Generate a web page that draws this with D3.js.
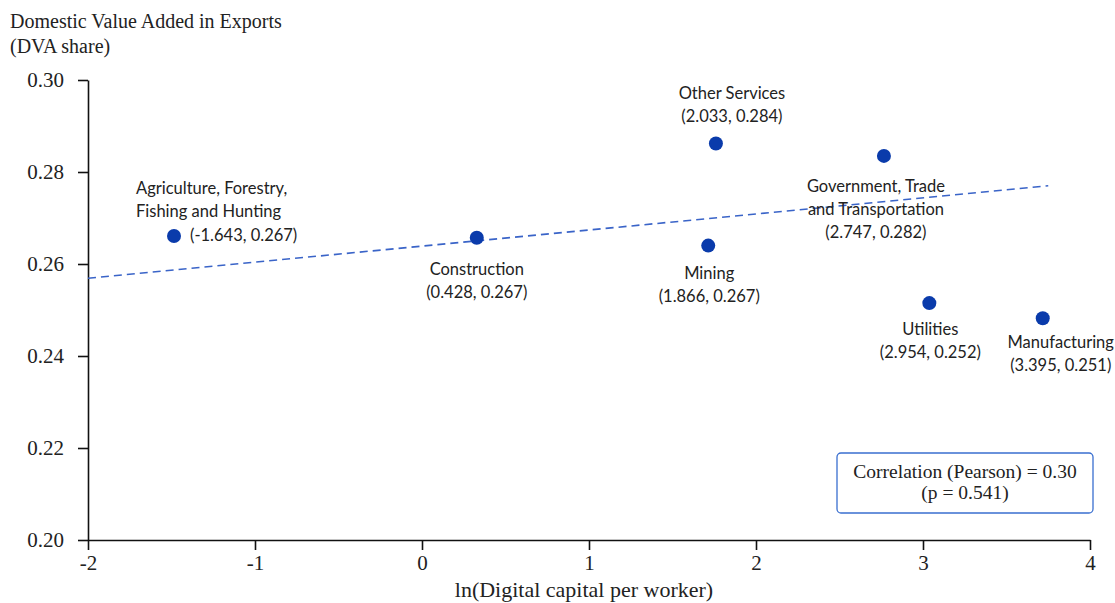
<!DOCTYPE html>
<html>
<head>
<meta charset="utf-8">
<script src="https://cdn.jsdelivr.net/npm/d3@7"></script>
<style>
	body { margin: 0; background: #fff; }
	.axis path, .axis line { stroke: #111; stroke-width: 1.6px; }
	.axis text { font-family: "Liberation Serif", serif; font-size: 21px; fill: #222; }
	.pt-label { font-family: Lato, "Noto Sans", sans-serif; font-size: 16.5px; fill: #222; }
</style>
</head>
<body>
<div id="chart"></div>
<script>

// sectors and where their dots sit
let sectors = ["Agriculture, Forestry, Fishing and Hunting", "Construction", "Other Services", "Mining",
	"Government, Trade and Transportation", "Utilities", "Manufacturing"];
let xValues = [-1.485, 0.328, 1.760, 1.714, 2.766, 3.038, 3.717];
let yValues = [0.2661, 0.2657, 0.2862, 0.2640, 0.2835, 0.2515, 0.2482];

// numbers printed in the annotations
let annX = ["-1.643", "0.428", "2.033", "1.866", "2.747", "2.954", "3.395"];
let annY = ["0.267", "0.267", "0.284", "0.267", "0.282", "0.252", "0.251"];

// fitted line end points
let fitX = [-2, 3.75];
let fitY = [0.2569, 0.2770];

let xTicks = [-2, -1, 0, 1, 2, 3, 4];
let yTicks = [0.20, 0.22, 0.24, 0.26, 0.28, 0.30];

let corrText = ["Correlation (Pearson) = 0.30", "(p = 0.541)"];

// label placement relative to each dot
let labelLayout = [
	{lines: ["Agriculture, Forestry,", "Fishing and Hunting"], dx: -38, dy: -42, anchor: "start", coordDx: 16, coordDy: 5, coordAnchor: "start", inline: true},
	{lines: ["Construction"], dx: 0, dy: 37, anchor: "middle"},
	{lines: ["Other Services"], dx: 16, dy: -44, anchor: "middle"},
	{lines: ["Mining"], dx: 1, dy: 33, anchor: "middle"},
	{lines: ["Government, Trade", "and Transportation"], dx: -8, dy: 36, anchor: "middle"},
	{lines: ["Utilities"], dx: 1, dy: 32, anchor: "middle"},
	{lines: ["Manufacturing"], dx: 18, dy: 30, anchor: "middle"}
];

let margin = {top: 80, right: 25, bottom: 63, left: 88};
let width = 1115 - margin.left - margin.right;
let height = 603 - margin.top - margin.bottom;

let svg = d3.select("#chart").append("svg")
	.attr("width", 1115)
	.attr("height", 603)
	.append("g")
	.attr("transform", "translate(" + margin.left + "," + margin.top + ")");

let x = d3.scaleLinear().domain([-2, 4]).range([0, 1002]);
let y = d3.scaleLinear().domain([0.20, 0.30]).range([height, 0]);

// axes
svg.append("g")
	.attr("class", "x-axis axis")
	.attr("transform", "translate(0," + height + ")")
	.call(d3.axisBottom(x).tickValues(xTicks).tickSize(10).tickSizeOuter(0).tickPadding(5)
		.tickFormat(d => (d < 0 ? "-" : "") + Math.abs(d)));

svg.append("g")
	.attr("class", "y-axis axis")
	.call(d3.axisLeft(y).tickValues(yTicks).tickSize(10).tickSizeOuter(0).tickPadding(14)
		.tickFormat(d3.format(".2f")));

svg.selectAll(".axis .domain").attr("stroke-width", 2);

// dashed fit line
svg.append("line")
	.attr("x1", x(fitX[0])).attr("y1", y(fitY[0]))
	.attr("x2", x(fitX[1])).attr("y2", y(fitY[1]))
	.attr("stroke", "#3a64c8")
	.attr("stroke-width", 1.6)
	.attr("stroke-dasharray", "8,5");

// dots
svg.selectAll("circle.pt")
	.data(xValues)
	.enter()
	.append("circle")
	.attr("class", "pt")
	.attr("cx", d => x(d))
	.attr("cy", (d, i) => y(yValues[i]))
	.attr("r", 7)
	.attr("fill", "#0a3bab");

// labels
sectors.forEach((s, i) => {
	let L = labelLayout[i];
	let cx = x(xValues[i]), cy = y(yValues[i]);
	let coord = "(" + annX[i] + ", " + annY[i] + ")";
	let t = svg.append("text")
		.attr("class", "pt-label")
		.attr("text-anchor", L.anchor);
	let lines = L.inline ? L.lines : L.lines.concat([coord]);
	lines.forEach((ln, j) => {
		t.append("tspan")
			.attr("x", cx + L.dx)
			.attr("y", cy + L.dy + j * 23)
			.text(ln);
	});
	if (L.inline) {
		svg.append("text")
			.attr("class", "pt-label")
			.attr("text-anchor", L.coordAnchor)
			.attr("x", cx + L.coordDx)
			.attr("y", cy + L.coordDy)
			.text(coord);
	}
});

// correlation box
let box = svg.append("g").attr("transform", "translate(" + (837 - margin.left) + "," + (453 - margin.top) + ")");
box.append("rect")
	.attr("width", 256).attr("height", 60)
	.attr("rx", 4)
	.attr("fill", "#fff")
	.attr("stroke", "#3a6fd0")
	.attr("stroke-width", 1.3);
corrText.forEach((tx, j) => {
	box.append("text")
		.attr("x", 128).attr("y", 25 + j * 21)
		.attr("text-anchor", "middle")
		.style("font-family", "'Liberation Serif', serif")
		.style("font-size", "19.5px")
		.attr("fill", "#222")
		.text(tx);
});

// axis titles
let root = d3.select("#chart svg");
root.append("text")
	.attr("x", 10).attr("y", 28)
	.style("font-family", "'Liberation Serif', serif")
	.style("font-size", "20px")
	.attr("fill", "#222")
	.text("Domestic Value Added in Exports");
root.append("text")
	.attr("x", 10).attr("y", 53)
	.style("font-family", "'Liberation Serif', serif")
	.style("font-size", "20px")
	.attr("fill", "#222")
	.text("(DVA share)");
root.append("text")
	.attr("x", 584).attr("y", 597)
	.attr("text-anchor", "middle")
	.style("font-family", "'Liberation Serif', serif")
	.style("font-size", "22px")
	.attr("fill", "#222")
	.text("ln(Digital capital per worker)");

</script>
</body>
</html>
